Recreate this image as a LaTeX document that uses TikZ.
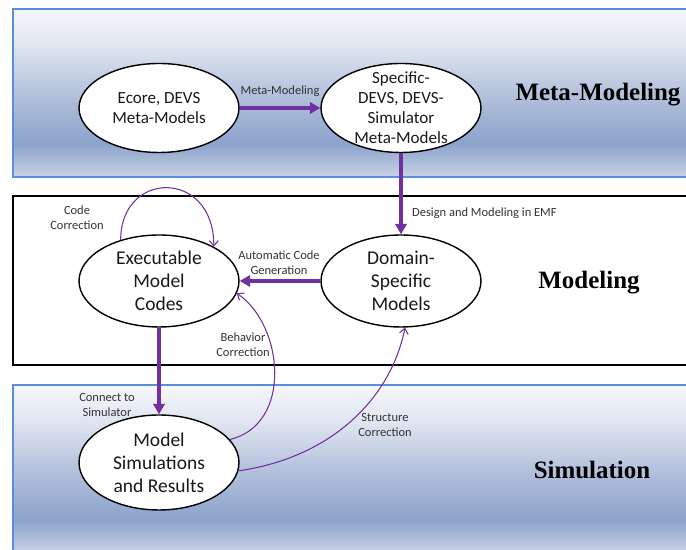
\documentclass[tikz,border=0pt]{standalone}
\usepackage{fontspec}
\setmainfont{Carlito}
\newfontfamily\titlefont{Liberation Serif}
\usetikzlibrary{arrows.meta,shapes.geometric}

\definecolor{flowpurple}{HTML}{7030A0}
\definecolor{bandedge}{HTML}{5B8EDF}
\definecolor{bandlow}{HTML}{C8D2E5}
\definecolor{banddeep}{HTML}{8CA3CB}
\definecolor{bandmid}{HTML}{B4C2DC}
\definecolor{bandpale}{HTML}{DFE5F0}
\definecolor{bandhigh}{HTML}{F5F7FB}

\pgfdeclareverticalshading{bandfade}{100bp}{color(0bp)=(bandlow); color(25bp)=(bandlow);
  color(35bp)=(banddeep); color(50bp)=(bandmid); color(64bp)=(bandpale);
  color(75bp)=(bandhigh); color(100bp)=(bandhigh)}

\tikzset{
  stage/.style={ellipse, draw=black, line width=0.8pt, fill=white,
    minimum width=3.2cm, inner sep=0pt},
  stagetext/.style={align=center, text=black!90,
    font=\fontsize{11.1}{13.1}\selectfont},
  metatext/.style={align=center, text=black!90,
    font=\fontsize{9.7}{11.4}\selectfont},
  flowlabel/.style={align=center, text=black!80,
    font=\fontsize{7.1}{8.5}\selectfont},
  mainflow/.style={draw=flowpurple, line width=2pt,
    -{Triangle[length=6pt,width=6.5pt]}},
  fixflow/.style={draw=flowpurple, line width=0.6pt,
    -{Straight Barb[length=3pt,width=5pt]}},
  bandtitle/.style={font=\titlefont\bfseries\fontsize{14.2}{16}\selectfont},
}

\begin{document}
\begin{tikzpicture}[x=0.02cm, y=0.02cm]
    \useasboundingbox (0,0) rectangle (686,550);
    \clip (0,0) rectangle (686,550);
    \fill[white] (0,0) rectangle (686,550);
    % three bands
    \shadedraw[shading=bandfade, draw=bandedge, line width=0.8pt] (13,373) rectangle (720,541);
    \draw[line width=0.9pt] (13,185) rectangle (720,354);
    \shadedraw[shading=bandfade, draw=bandedge, line width=0.8pt] (13,-3) rectangle (720,165);
    \node[bandtitle] (metatitle) at (598,455) {Meta-Modeling};
    \node[bandtitle] (modtitle) at (589,267) {Modeling};
    \node[bandtitle] (simtitle) at (592,80) {Simulation};

    \node[stage, minimum height=1.78cm] (eco) at (159,442) {};
    \node[metatext] (ecotext) at (eco) {Ecore, DEVS\\Meta-Models};
    \node[stage, minimum height=1.78cm] (spec) at (401,442) {};
    \node[metatext] (spectext) at (spec) {Specific-\\DEVS, DEVS-\\Simulator\\Meta-Models};
    \node[stage, minimum height=1.84cm] (exe) at (159,269) {};
    \node[stagetext] (exetext) at (exe) {Executable\\Model\\Codes};
    \node[stage, minimum height=1.84cm] (dom) at (401,269) {};
    \node[stagetext] (domtext) at (dom) {Domain-\\Specific\\Models};
    \node[stage, minimum height=1.9cm] (sim) at (159,87.5) {};
    \node[stagetext] (simtext) at (sim) {Model\\Simulations\\and Results};

    \draw[mainflow] (eco) -- (spec);
    \draw[mainflow] (spec) -- (dom);
    \draw[mainflow] (dom) -- (exe);
    \draw[mainflow] (exe) -- (sim);
    \draw[fixflow] (exe.133) .. controls +(0,70) and +(0,78) .. (exe.32);
    \draw[fixflow] (sim.18) .. controls +(63,15) and +(47,-32) .. (exe.351);
    \draw[fixflow] (sim.354) .. controls +(91,13) and +(-15,-73) .. (dom.275);

    \node[flowlabel] (metalabel) at (280,459) {Meta-Modeling};
    \node[flowlabel, anchor=west] (designlabel) at (406,337) {Design and Modeling in EMF};
    \node[flowlabel] (genlabel) at (279,287) {Automatic Code\\Generation};
    \node[flowlabel] (codelabel) at (77,332) {Code\\Correction};
    \node[flowlabel] (behavlabel) at (243,205) {Behavior\\Correction};
    \node[flowlabel] (connlabel) at (107,145) {Connect to\\Simulator};
    \node[flowlabel] (structlabel) at (385,125) {Structure\\Correction};
\end{tikzpicture}
\end{document}
